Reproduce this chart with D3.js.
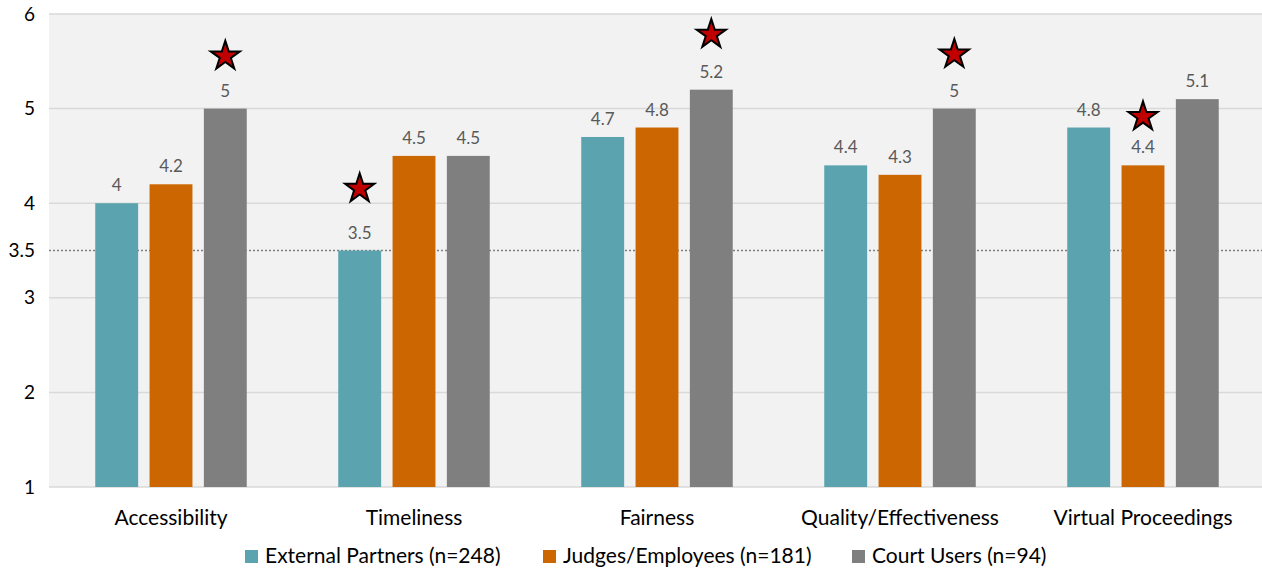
<!DOCTYPE html>
<html>
<head>
<meta charset="utf-8">
<script src="https://cdn.jsdelivr.net/npm/d3@7"></script>
<style>
  html, body { margin: 0; padding: 0; background: #fff; }
  svg { display: block; font-family: Lato, "Open Sans", sans-serif; }
</style>
</head>
<body>
<svg id="chart" width="1262" height="571"></svg>
<script>
// Survey dimensions and group means
const categories = ["Accessibility", "Timeliness", "Fairness", "Quality/Effectiveness", "Virtual Proceedings"];
const seriesNames = ["External Partners (n=248)", "Judges/Employees (n=181)", "Court Users (n=94)"];
const externalPartners = [4.0, 3.5, 4.7, 4.4, 4.8];
const judgesEmployees  = [4.2, 4.5, 4.8, 4.3, 4.4];
const courtUsers       = [5.0, 4.5, 5.2, 5.0, 5.1];
const seriesColors = ["#5BA3AF", "#CC6600", "#7F7F7F"];
// Star markers: which series per category, and their vertical position
const starSeries = [2, 0, 2, 2, 1];
const starValues = [5.57, 4.17, 5.80, 5.59, 4.93];
const yTicks = [1, 2, 3, 3.5, 4, 5, 6];
const gridTicks = [1, 2, 3, 4, 5, 6];
const referenceLine = 3.5;

const seriesValues = [externalPartners, judgesEmployees, courtUsers];

const svg = d3.select("#chart");
const plot = { left: 49, right: 1262, top: 14, bottom: 487 };

const y = d3.scaleLinear().domain([1, 6]).range([plot.bottom, plot.top]);
const x = d3.scaleBand().domain(categories).range([49.5, 1264.5]).padding(0);
const xs = d3.scaleBand().domain(d3.range(3)).range([-81.45, 81.45]).paddingInner(0.21).paddingOuter(0.105);

// Plot background
svg.append("rect")
  .attr("x", plot.left).attr("y", plot.top)
  .attr("width", plot.right - plot.left).attr("height", plot.bottom - plot.top)
  .attr("fill", "#F2F2F2");

// Horizontal gridlines
svg.append("g").selectAll("line").data(gridTicks).join("line")
  .attr("x1", plot.left).attr("x2", plot.right)
  .attr("y1", d => y(d)).attr("y2", d => y(d))
  .attr("stroke", "#D9D9D9").attr("stroke-width", 1.5);

// Y axis tick labels
const yAxis = d3.axisLeft(y).tickValues(yTicks).tickSize(0).tickPadding(0).tickFormat(d3.format("~g"));
const yg = svg.append("g").attr("transform", `translate(${plot.left - 14},0)`).call(yAxis);
yg.select(".domain").remove();
yg.selectAll("text").attr("font-size", 19).attr("fill", "#000").attr("font-family", "Lato, sans-serif");

// Reference line
svg.append("line")
  .attr("x1", plot.left).attr("x2", plot.right)
  .attr("y1", y(referenceLine)).attr("y2", y(referenceLine))
  .attr("stroke", "#7F7F7F").attr("stroke-width", 1.5).attr("stroke-dasharray", "2,2");

// Bars
const groups = svg.append("g").selectAll("g").data(categories).join("g")
  .attr("transform", d => `translate(${x(d) + x.bandwidth() / 2},0)`);

groups.selectAll("rect").data((c, ci) => seriesValues.map((vals, si) => ({ si, v: vals[ci] }))).join("rect")
  .attr("x", d => xs(d.si)).attr("width", xs.bandwidth())
  .attr("y", d => y(d.v)).attr("height", d => y(1) - y(d.v))
  .attr("fill", d => seriesColors[d.si]);

// Value labels
groups.selectAll("text.val").data((c, ci) => seriesValues.map((vals, si) => ({ si, v: vals[ci] }))).join("text")
  .attr("class", "val")
  .attr("x", d => xs(d.si) + xs.bandwidth() / 2)
  .attr("y", d => y(d.v) - 12)
  .attr("text-anchor", "middle")
  .attr("font-size", 17).attr("fill", "#595959")
  .text(d => d3.format("~g")(d.v));

// Star markers
const star = d3.symbol().type(d3.symbolStar).size(265);
groups.append("path")
  .attr("d", star)
  .attr("transform", (c, ci) => `translate(${xs(starSeries[ci]) + xs.bandwidth() / 2},${y(starValues[ci]) + 1.5})`)
  .attr("fill", "#C00000").attr("stroke", "#000").attr("stroke-width", 2).attr("stroke-linejoin", "miter");

// Category labels
groups.append("text")
  .attr("y", 525).attr("text-anchor", "middle")
  .attr("font-size", 21).attr("fill", "#000")
  .text(d => d);

// Legend
const legendX = [245, 543, 852];
const legend = svg.append("g").selectAll("g").data(seriesNames).join("g")
  .attr("transform", (d, i) => `translate(${legendX[i]},556)`);
legend.append("rect").attr("x", 0).attr("y", -6).attr("width", 13).attr("height", 13)
  .attr("fill", (d, i) => seriesColors[i]);
legend.append("text").attr("x", 20).attr("y", 7)
  .attr("font-size", 21).attr("fill", "#000")
  .text(d => d);
</script>
</body>
</html>
